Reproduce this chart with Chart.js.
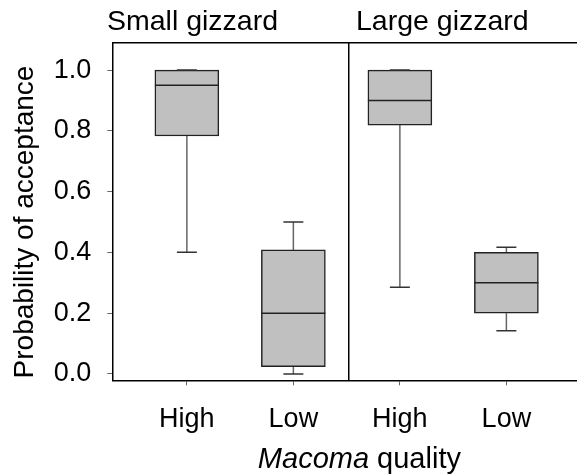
<!DOCTYPE html>
<html>
<head>
<meta charset="utf-8">
<script src="https://cdn.jsdelivr.net/npm/chart.js@4.4.1/dist/chart.umd.min.js"></script>
<style>
  body { margin: 0; background: #fff; }
  canvas { display: block; }
</style>
</head>
<body>
<canvas id="chart" width="577" height="476"></canvas>
<script>
// data (proportion accepted)
const groups = ['Small gizzard', 'Large gizzard'];
const qualityLabels = ['High', 'Low', 'High', 'Low'];
const xPos = [1, 2, 3, 4];
const whiskerMax = [1.0, 0.50, 1.0, 0.417];
const q3 = [1.0, 0.408, 1.0, 0.40];
const median = [0.95, 0.20, 0.90, 0.30];
const q1 = [0.783, 0.024, 0.819, 0.20];
const whiskerMin = [0.40, 0.0, 0.285, 0.142];
const yTicks = [0, 0.2, 0.4, 0.6, 0.8, 1.0];

const FONT = "'Liberation Sans', Arial, sans-serif";
Chart.defaults.font.family = FONT;
Chart.defaults.color = '#000';

// whisker segments, split with nulls
const whiskerPts = [];
xPos.forEach((x, i) => {
   whiskerPts.push({x: x, y: q3[i]}, {x: x, y: whiskerMax[i]}, {x: x, y: null});
   whiskerPts.push({x: x, y: q1[i]}, {x: x, y: whiskerMin[i]}, {x: x, y: null});
})
const capPts = [];
xPos.forEach((x, i) => {
   capPts.push({x: x, y: whiskerMax[i]}, {x: x, y: whiskerMin[i]});
})

// frame lines + titles
const decor = {
   id: 'decor',
   afterDraw(chart) {
      const ctx = chart.ctx;
      const a = chart.chartArea;
      const xs = chart.scales.x;
      const ys = chart.scales.y;
      ctx.save();
      ctx.strokeStyle = '#000';
      ctx.lineWidth = 1.5;
      ctx.beginPath();
      ctx.moveTo(a.left, a.top);
      ctx.lineTo(a.right, a.top);
      const dx = xs.getPixelForValue(2.52);
      ctx.moveTo(dx, a.top);
      ctx.lineTo(dx, a.bottom);
      ctx.stroke();

      ctx.fillStyle = '#000';
      ctx.textBaseline = 'alphabetic';
      ctx.textAlign = 'left';
      ctx.font = '28.5px ' + FONT;
      ctx.fillText(groups[0], 107, 30);
      ctx.fillText(groups[1], 356, 30);

      // y title
      ctx.save();
      ctx.translate(33, (ys.getPixelForValue(0) + ys.getPixelForValue(1)) / 2);
      ctx.rotate(-Math.PI / 2);
      ctx.textAlign = 'center';
      ctx.font = '28px ' + FONT;
      ctx.fillText('Probability of acceptance', 0, 0);
      ctx.restore();

      // x title, first word italic
      const w1 = 'Macoma', w2 = ' quality';
      ctx.font = 'italic 29px ' + FONT;
      const m1 = ctx.measureText(w1).width;
      ctx.font = '29px ' + FONT;
      const m2 = ctx.measureText(w2).width;
      const cx = xs.getPixelForValue(2.62);
      let sx = cx - (m1 + m2) / 2;
      ctx.font = 'italic 29px ' + FONT;
      ctx.fillText(w1, sx, 468);
      ctx.font = '29px ' + FONT;
      ctx.fillText(w2, sx + m1, 468);
      ctx.restore();
   }
}

new Chart(document.getElementById('chart'), {
   type: 'bar',
   data: {
      datasets: [
         {
            type: 'scatter',
            label: 'median',
            data: xPos.map((x, i) => ({x: x, y: median[i]})),
            pointStyle: 'line',
            pointRadius: 32,
            borderColor: '#222',
            borderWidth: 1.5,
            order: 0
         },
         {
            type: 'scatter',
            label: 'caps',
            data: capPts,
            pointStyle: 'line',
            pointRadius: 10,
            borderColor: '#333',
            borderWidth: 1.5,
            order: 1
         },
         {
            label: 'box',
            data: xPos.map((x, i) => ({x: x, y: [q1[i], q3[i]]})),
            backgroundColor: '#c0c0c0',
            borderColor: '#222',
            borderWidth: 1.5,
            borderSkipped: false,
            barThickness: 64,
            order: 2
         },
         {
            type: 'line',
            label: 'whiskers',
            data: whiskerPts,
            borderColor: '#666',
            borderWidth: 1.5,
            pointRadius: 0,
            spanGaps: false,
            order: 3
         }
      ]
   },
   options: {
      responsive: false,
      animation: false,
      layout: { autoPadding: false, padding: { top: 42.7, left: 0, right: 0, bottom: 0 } },
      plugins: { legend: { display: false }, tooltip: { enabled: false } },
      scales: {
         x: {
            type: 'linear',
            offset: false,
            min: 0.3,
            max: 4.663,
            afterBuildTicks: (s) => { s.ticks = xPos.map(v => ({value: v})) },
            afterFit: (s) => {
               s.height = 95.7
               s.paddingLeft = 0
               s.paddingRight = 0
            },
            ticks: {
               font: { size: 27 },
               padding: 18,
               maxRotation: 0,
               callback: (v) => qualityLabels[xPos.indexOf(v)]
            },
            grid: { offset: false, drawOnChartArea: false, tickLength: 5, color: '#666' },
            border: { color: '#000', width: 1.5 }
         },
         y: {
            min: -0.021,
            max: 1.09,
            afterBuildTicks: (s) => { s.ticks = yTicks.map(v => ({value: v})) },
            afterFit: (s) => { s.width = 112.3 },
            ticks: {
               font: { size: 27 },
               padding: 16,
               callback: (v) => v.toFixed(1)
            },
            grid: { drawOnChartArea: false, tickLength: 5, color: '#666' },
            border: { color: '#000', width: 1.5 }
         }
      }
   },
   plugins: [decor]
})
</script>
</body>
</html>
